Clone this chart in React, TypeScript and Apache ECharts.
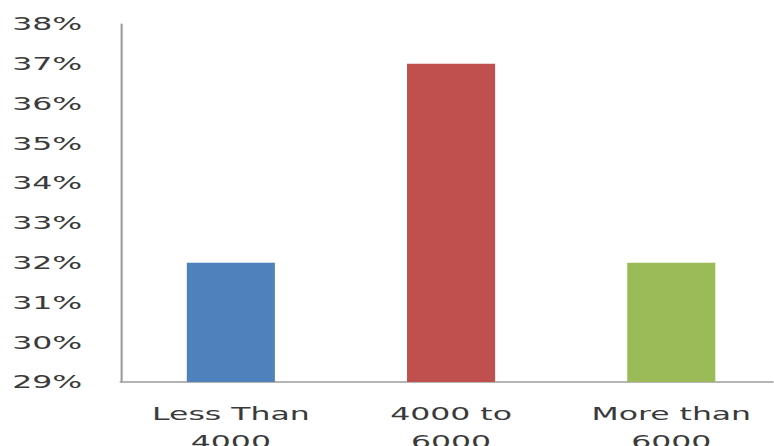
import React, { useEffect, useRef } from "react";
import * as echarts from "echarts";

// Monthly income bands and share of respondents (%)
const categories = ["Less Than\n4000", "4000 to\n6000", "More than\n6000"];
const shares = [32, 37, 32];
const barColors = ["#4F81BD", "#C0504D", "#9BBB59"];
const yMin = 29;
const yMax = 38;
const yStep = 1;

// The chart is drawn narrow and stretched horizontally for its wide look.
const STRETCH = 1.75;
const PAGE_W = 774;
const PAGE_H = 446;

export default function App() {
  const ref = useRef<HTMLDivElement>(null);

  useEffect(() => {
    if (!ref.current) return;
    const chart = echarts.init(ref.current, undefined, { renderer: "svg" });
    const textColor = "#3a3a3a";
    chart.setOption({
      animation: false,
      backgroundColor: "#ffffff",
      grid: {
        left: 69,
        top: 24,
        bottom: 64,
        width: 377.5,
        containLabel: false,
        outerBoundsMode: "none",
      },
      xAxis: {
        type: "category",
        data: categories,
        axisLine: { show: true, lineStyle: { color: "#9c9c9c", width: 1.5 } },
        axisTick: { show: false },
        axisLabel: {
          color: textColor,
          fontFamily: "DejaVu Sans",
          fontSize: 18,
          lineHeight: 28,
          margin: 18,
          interval: 0,
        },
        splitLine: { show: false },
      },
      yAxis: {
        type: "value",
        min: yMin,
        max: yMax,
        interval: yStep,
        axisLine: { show: true, lineStyle: { color: "#9c9c9c", width: 1.2 } },
        axisTick: { show: false },
        splitLine: { show: false },
        axisLabel: {
          color: textColor,
          fontFamily: "DejaVu Sans",
          fontSize: 18,
          margin: 22,
          formatter: (v: number) => `${v}%`,
        },
      },
      series: [
        {
          type: "bar",
          barWidth: "40%",
          data: shares.map((v, i) => ({
            value: v,
            itemStyle: { color: barColors[i] },
          })),
        },
      ],
    });
    return () => chart.dispose();
  }, []);

  return (
    <div
      style={{
        position: "fixed",
        left: 0,
        top: 0,
        width: PAGE_W,
        height: PAGE_H,
        overflow: "hidden",
        background: "#ffffff",
      }}
    >
      <div
        ref={ref}
        style={{
          width: PAGE_W / STRETCH,
          height: PAGE_H,
          transform: `scaleX(${STRETCH})`,
          transformOrigin: "0 0",
        }}
      />
    </div>
  );
}
